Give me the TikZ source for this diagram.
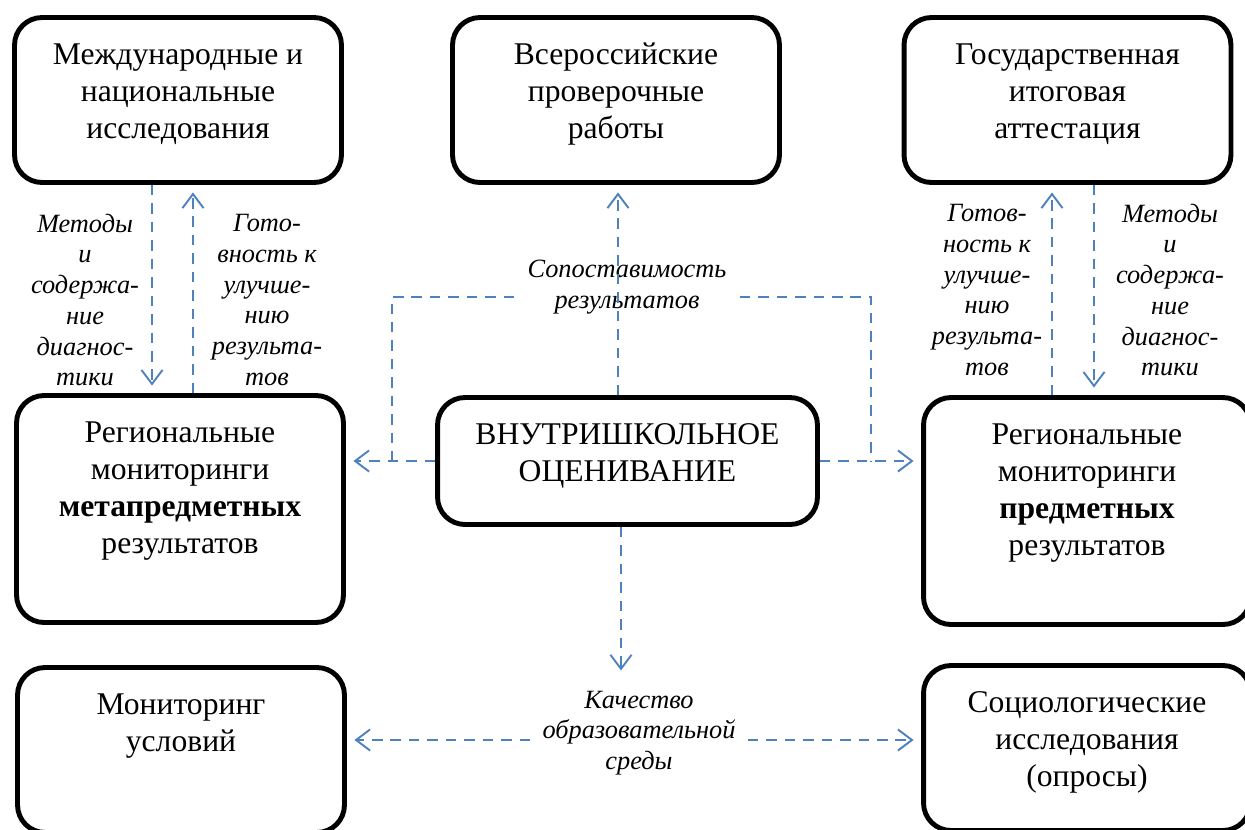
\documentclass[tikz,border=0pt]{standalone}
\usepackage{fontspec}
\setmainfont{Liberation Serif}
\usetikzlibrary{arrows.meta}
\definecolor{linkblue}{RGB}{79,129,189}
\tikzset{
  blk/.style={draw,line width=2.8pt,rounded corners=0.55cm,inner sep=0pt},
  lnk/.style={draw=linkblue,line width=1.1pt,dash pattern=on 6pt off 4.5pt},
  arr/.style={lnk,-{Straight Barb[length=8pt,width=12pt]},shorten >=0.15cm},
  note/.style={font=\fontsize{15}{17.5}\selectfont\itshape,align=center,inner sep=0pt}
}
% box text: width, height, lines
\newcommand{\boxtext}[3]{\parbox[c][#2][t]{#1}{\centering\fontsize{18}{21}\selectfont
  \vspace*{0.42cm}\strut #3}}

\begin{document}
\begin{tikzpicture}[x=0.02cm,y=-0.02cm]
\useasboundingbox (0,0) rectangle (1245,829);
% boxes
\node[blk] (intl) at (178,100) {\boxtext{6.54cm}{3.3cm}{Международные и\\национальные\\исследования}};
\node[blk] (vpr) at (616,100) {\boxtext{6.54cm}{3.3cm}{Всероссийские\\проверочные\\работы}};
\node[blk] (gia) at (1067.5,100) {\boxtext{6.54cm}{3.3cm}{Государственная\\итоговая\\аттестация}};
\node[blk] (meta) at (180,509) {\boxtext{6.54cm}{4.54cm}{Региональные\\мониторинги\\\textbf{метапредметных}\\результатов}};
\node[blk] (school) at (627.5,461) {\boxtext{7.6cm}{2.54cm}{ВНУТРИШКОЛЬНОЕ\\ОЦЕНИВАНИЕ}};
\node[blk] (subj) at (1087,511) {\boxtext{6.54cm}{4.54cm}{Региональные\\мониторинги\\\textbf{предметных}\\результатов}};
\node[blk] (cond) at (181,750) {\boxtext{6.54cm}{3.3cm}{Мониторинг\\условий}};
\node[blk] (soc) at (1087,748) {\boxtext{6.54cm}{3.3cm}{Социологические\\исследования\\(опросы)}};
% labels
\node[note] (meth1) at (85,300) {Методы\\и\\содержа-\\ние\\диагнос-\\тики};
\node[note] (ready1) at (267,300) {Гото-\\вность к\\улучше-\\нию\\результа-\\тов};
\node[note] (ready2) at (987,290) {Готов-\\ность к\\улучше-\\нию\\результа-\\тов};
\node[note] (meth2) at (1170,290) {Методы\\и\\содержа-\\ние\\диагнос-\\тики};
\node[note,inner xsep=0.26cm] (cmp) at (627,287) {Сопоставимость\\результатов};
\node[note,inner xsep=0.24cm,inner ysep=0.25cm] (env) at (639,733) {Качество\\образовательной\\среды};
% links
\draw[arr] ([xshift=-0.52cm]intl.south) -- ([xshift=-0.52cm]intl.south |- meta.north);
\draw[arr] ([xshift=0.3cm]intl.south |- meta.north) -- ([xshift=0.3cm]intl.south);
\draw[arr] ([xshift=0.53cm]gia.south) -- ([xshift=0.53cm]gia.south |- subj.north);
\draw[arr] ([xshift=-0.31cm]gia.south |- subj.north) -- ([xshift=-0.31cm]gia.south);
\draw[arr] ([xshift=0.04cm]vpr.south |- school.north) -- ([xshift=0.04cm]vpr.south);
\draw[arr] ([xshift=-0.13cm]school.south) -- ([xshift=-0.13cm]school.south |- env.north);
\draw[arr] (school.west) -- (school.west -| meta.east);
\draw[arr] (school.east) -- (school.east -| subj.west);
\draw[lnk] ([yshift=-0.2cm]cmp.west) -| ([xshift=-0.87cm]school.west);
\draw[lnk] ([yshift=-0.2cm]cmp.east) -| ([xshift=1.03cm]school.east);
\draw[arr] ([yshift=-0.14cm]env.west) -- ([yshift=-0.14cm]env.west -| cond.east);
\draw[arr] ([yshift=-0.14cm]env.east) -- ([yshift=-0.14cm]env.east -| soc.west);
\end{tikzpicture}
\end{document}
